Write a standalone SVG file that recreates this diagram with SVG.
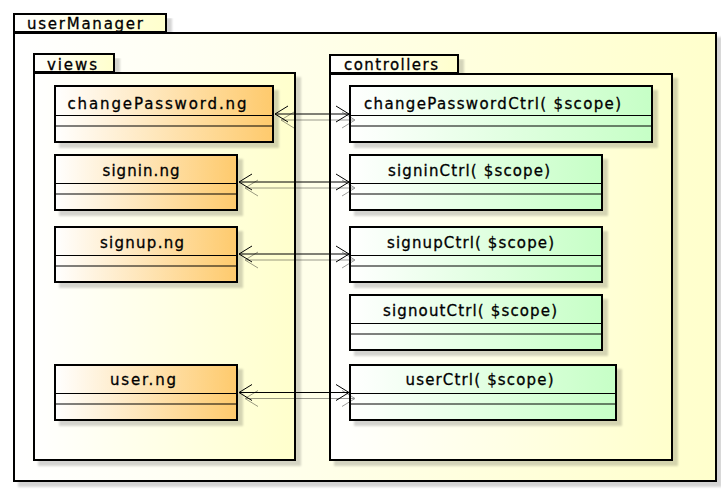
<svg xmlns="http://www.w3.org/2000/svg" width="721" height="490" viewBox="0 0 721 490">
  <defs>
    <linearGradient id="pkgFill" x1="0" y1="0" x2="1" y2="0">
      <stop offset="0" stop-color="#FFFFFF"/>
      <stop offset="1" stop-color="#FFFFCC"/>
    </linearGradient>
    <linearGradient id="viewFill" x1="0" y1="0" x2="1" y2="0">
      <stop offset="0" stop-color="#FFFFFF"/>
      <stop offset="1" stop-color="#FECA6C"/>
    </linearGradient>
    <linearGradient id="ctrlFill" x1="0" y1="0" x2="1" y2="0">
      <stop offset="0" stop-color="#FFFFFF"/>
      <stop offset="1" stop-color="#C6FFC6"/>
    </linearGradient>
    <filter id="shadow" x="-5%" y="-5%" width="120%" height="130%">
      <feGaussianBlur in="SourceAlpha" stdDeviation="0.8"/>
      <feOffset dx="5" dy="5"/>
      <feComponentTransfer><feFuncA type="linear" slope="0.17"/></feComponentTransfer>
      <feMerge><feMergeNode/><feMergeNode in="SourceGraphic"/></feMerge>
    </filter>
    <filter id="lineShadow" x="-10%" y="-50%" width="130%" height="250%">
      <feGaussianBlur in="SourceAlpha" stdDeviation="0.5"/>
      <feOffset dx="6" dy="6"/>
      <feComponentTransfer><feFuncA type="linear" slope="0.4"/></feComponentTransfer>
      <feMerge><feMergeNode/><feMergeNode in="SourceGraphic"/></feMerge>
    </filter>
  </defs>
  <style>
    .pkg { fill: url(#pkgFill); stroke: #000; stroke-width: 2; filter: url(#shadow); }
    .view { fill: url(#viewFill); stroke: #000; stroke-width: 2; filter: url(#shadow); }
    .ctrl { fill: url(#ctrlFill); stroke: #000; stroke-width: 2; filter: url(#shadow); }
    .sep { stroke: #000; stroke-width: 1; }
    .lbl { font-family: "DejaVu Sans", "Liberation Sans", sans-serif; font-size: 15px; fill: #000; stroke: #000; stroke-width: 0.3px; }
    .link { stroke: #000; stroke-width: 1; fill: none; }
  </style>

  <!-- package userManager -->
  <g id="userManager">
    <rect class="pkg" x="14" y="14" width="152" height="18"/>
    <rect class="pkg" x="14" y="33" width="702" height="448"/>
    <text class="lbl" x="27" y="29" textLength="116" lengthAdjust="spacing">userManager</text>
  </g>

  <!-- package views -->
  <g id="views">
    <rect class="pkg" x="34" y="54" width="80" height="18"/>
    <rect class="pkg" x="34" y="73" width="261" height="387"/>
    <text class="lbl" x="47" y="70" textLength="50" lengthAdjust="spacing">views</text>
  </g>

  <!-- package controllers -->
  <g id="controllers">
    <rect class="pkg" x="330" y="55" width="128" height="18"/>
    <rect class="pkg" x="330" y="74" width="342" height="386"/>
    <text class="lbl" x="344" y="70" textLength="94" lengthAdjust="spacing">controllers</text>
  </g>

  <!-- view classes -->
  <g id="changePassword.ng">
    <rect class="view" x="55" y="86" width="218" height="56"/>
    <line class="sep" x1="55" y1="115.5" x2="273" y2="115.5"/>
    <line class="sep" x1="55" y1="126" x2="273" y2="126"/>
    <text class="lbl" x="67.5" y="108.5" textLength="179" lengthAdjust="spacing">changePassword.ng</text>
  </g>
  <g id="signin.ng">
    <rect class="view" x="55" y="155" width="182" height="55"/>
    <line class="sep" x1="55" y1="183.5" x2="237" y2="183.5"/>
    <line class="sep" x1="55" y1="194" x2="237" y2="194"/>
    <text class="lbl" x="102.5" y="176" textLength="77" lengthAdjust="spacing">signin.ng</text>
  </g>
  <g id="signup.ng">
    <rect class="view" x="55" y="227" width="182" height="55"/>
    <line class="sep" x1="55" y1="255.5" x2="237" y2="255.5"/>
    <line class="sep" x1="55" y1="266" x2="237" y2="266"/>
    <text class="lbl" x="100" y="248" textLength="84" lengthAdjust="spacing">signup.ng</text>
  </g>
  <g id="user.ng">
    <rect class="view" x="55" y="365" width="182" height="55"/>
    <line class="sep" x1="55" y1="393.5" x2="237" y2="393.5"/>
    <line class="sep" x1="55" y1="404" x2="237" y2="404"/>
    <text class="lbl" x="110" y="385" textLength="66" lengthAdjust="spacing">user.ng</text>
  </g>

  <!-- controller classes -->
  <g id="changePasswordCtrl">
    <rect class="ctrl" x="350" y="86" width="302" height="56"/>
    <line class="sep" x1="350" y1="115.5" x2="652" y2="115.5"/>
    <line class="sep" x1="350" y1="126" x2="652" y2="126"/>
    <text class="lbl" x="364" y="108.5" textLength="257" lengthAdjust="spacing">changePasswordCtrl( $scope)</text>
  </g>
  <g id="signinCtrl">
    <rect class="ctrl" x="350" y="155" width="252" height="55"/>
    <line class="sep" x1="350" y1="183.5" x2="602" y2="183.5"/>
    <line class="sep" x1="350" y1="194" x2="602" y2="194"/>
    <text class="lbl" x="388" y="176" textLength="162" lengthAdjust="spacing">signinCtrl( $scope)</text>
  </g>
  <g id="signupCtrl">
    <rect class="ctrl" x="350" y="227" width="252" height="55"/>
    <line class="sep" x1="350" y1="255.5" x2="602" y2="255.5"/>
    <line class="sep" x1="350" y1="266" x2="602" y2="266"/>
    <text class="lbl" x="387" y="248" textLength="167" lengthAdjust="spacing">signupCtrl( $scope)</text>
  </g>
  <g id="signoutCtrl">
    <rect class="ctrl" x="350" y="295" width="252" height="55"/>
    <line class="sep" x1="350" y1="323.5" x2="602" y2="323.5"/>
    <line class="sep" x1="350" y1="334" x2="602" y2="334"/>
    <text class="lbl" x="383" y="316" textLength="174" lengthAdjust="spacing">signoutCtrl( $scope)</text>
  </g>
  <g id="userCtrl">
    <rect class="ctrl" x="350" y="365" width="266" height="55"/>
    <line class="sep" x1="350" y1="393.5" x2="616" y2="393.5"/>
    <line class="sep" x1="350" y1="404" x2="616" y2="404"/>
    <text class="lbl" x="405.5" y="385" textLength="148" lengthAdjust="spacing">userCtrl( $scope)</text>
  </g>

  <!-- bidirectional associations between views and controllers -->
  <g id="connectors" filter="url(#lineShadow)">
    <line class="link" x1="275" y1="114" x2="349" y2="114"/>
    <polyline class="link" points="288,106 275,114 288,122"/>
    <polyline class="link" points="336,106 349,114 336,122"/>

    <line class="link" x1="239" y1="182" x2="349" y2="182"/>
    <polyline class="link" points="252,174 239,182 252,190"/>
    <polyline class="link" points="336,174 349,182 336,190"/>

    <line class="link" x1="239" y1="254" x2="349" y2="254"/>
    <polyline class="link" points="252,246 239,254 252,262"/>
    <polyline class="link" points="336,246 349,254 336,262"/>

    <line class="link" x1="239" y1="392.5" x2="349" y2="392.5"/>
    <polyline class="link" points="252,384.5 239,392.5 252,400.5"/>
    <polyline class="link" points="336,384.5 349,392.5 336,400.5"/>
  </g>
</svg>
